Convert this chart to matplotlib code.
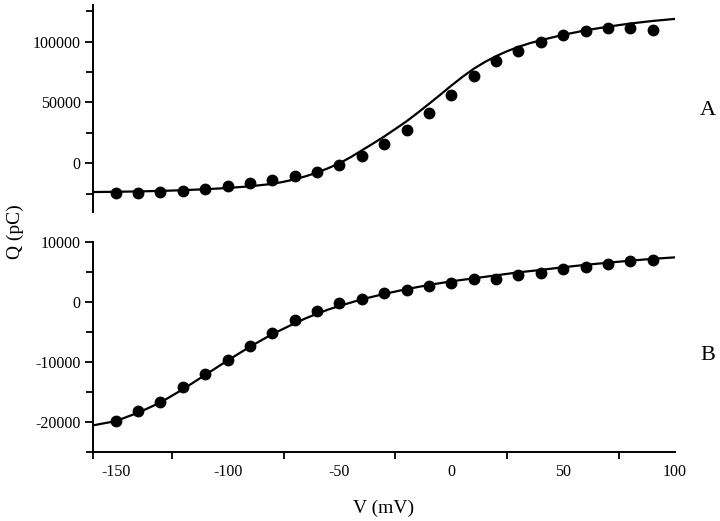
import numpy as np
import matplotlib.pyplot as plt
from matplotlib.ticker import MultipleLocator, FixedLocator

plt.rcParams['font.family'] = ['Liberation Serif', 'DejaVu Serif']
plt.rcParams['axes.unicode_minus'] = False

# voltages of the measured points (mV)
v_pts = [-150, -140, -130, -120, -110, -100, -90, -80, -70, -60, -50, -40,
         -30, -20, -10, 0, 10, 20, 30, 40, 50, 60, 70, 80, 90]

# panel A, measured charge (pC)
qa_pts = [-24800, -24800, -23500, -22400, -21000, -18600, -16400, -13600, -10800,
          -7100, -1300, 6000, 16000, 27200, 41000, 56300, 71300, 83600, 92600,
          99400, 105500, 108800, 110900, 111500, 109600]

# panel B, measured charge (pC)
qb_pts = [-19900, -18250, -16770, -14250, -12000, -9700, -7380, -5280, -3000,
          -1600, -200, 500, 1500, 1950, 2670, 3120, 3720, 3800, 4530, 4870,
          5400, 5830, 6280, 6830, 6900]

# fitted curves
v_fit = [-160, -150, -140, -130, -120, -110, -100, -90, -80, -75, -70, -65, -60,
         -55, -50, -45, -40, -35, -30, -25, -20, -15, -10, -5, 0, 5, 10, 15, 20,
         25, 30, 35, 40, 50, 60, 70, 80, 90, 100]
qa_fit = [-23600, -23400, -23100, -22700, -22100, -21300, -20300, -18900, -16900,
          -15200, -13200, -10600, -7600, -4000, 0, 5000, 10600, 16200, 22000,
          28200, 34500, 41500, 48800, 56200, 63800, 71000, 77600, 83200, 88000,
          92100, 95600, 98600, 101100, 105500, 109200, 112200, 114800, 116900, 118600]
qb_fit = [-20600, -19900, -18500, -16800, -14600, -12200, -9800, -7500, -5400,
          -4500, -3600, -2750, -2000, -1300, -700, -150, 400, 850, 1300, 1700,
          2100, 2450, 2800, 3100, 3400, 3650, 3900, 4150, 4400, 4650, 4900, 5100,
          5300, 5750, 6150, 6500, 6850, 7150, 7400]

fig = plt.figure(figsize=(7.2, 5.21), dpi=100)
ax_a = fig.add_axes([0.1296, 0.5931, 0.8080, 0.3973])
ax_b = fig.add_axes([0.1296, 0.1330, 0.8080, 0.4030])

for ax in (ax_a, ax_b):
    ax.plot(v_fit, qa_fit if ax is ax_a else qb_fit, color='black', lw=1.6, zorder=2)
    ax.plot(v_pts, qa_pts if ax is ax_a else qb_pts, 'o', color='black', ms=7.5, zorder=3)
    ax.set_xlim(-160, 100)
    ax.spines['top'].set_visible(False)
    ax.spines['right'].set_visible(False)
    for s in ax.spines.values():
        s.set_linewidth(1.4)
    ax.tick_params(which='major', direction='out', length=6, width=1.3, labelsize=11.5, pad=3)
    ax.tick_params(which='minor', direction='out', length=5, width=1.3)

# top panel: y axis only
ax_a.set_ylim(-40000, 130000)
ax_a.spines['bottom'].set_visible(False)
ax_a.set_xticks([])
ax_a.yaxis.set_major_locator(MultipleLocator(50000))
ax_a.yaxis.set_minor_locator(MultipleLocator(25000))

ax_b.set_ylim(-25000, 10000)
ax_b.yaxis.set_major_locator(MultipleLocator(10000))
ax_b.yaxis.set_minor_locator(MultipleLocator(5000))
ax_b.xaxis.set_major_locator(MultipleLocator(50))
ax_b.xaxis.set_minor_locator(FixedLocator([-160, -125, -75, -25, 25, 75, 100]))
ax_b.tick_params(axis='x', which='major', length=0, pad=9)

fig.text(0.983, 0.787, 'A', fontsize=16, ha='center', va='center')
fig.text(0.983, 0.318, 'B', fontsize=16, ha='center', va='center')
fig.text(0.022, 0.555, 'Q (pC)', fontsize=14, rotation=90, ha='center', va='center')
fig.text(0.533, 0.025, 'V (mV)', fontsize=14, ha='center', va='center')

fig.savefig('out.png', dpi=100)
